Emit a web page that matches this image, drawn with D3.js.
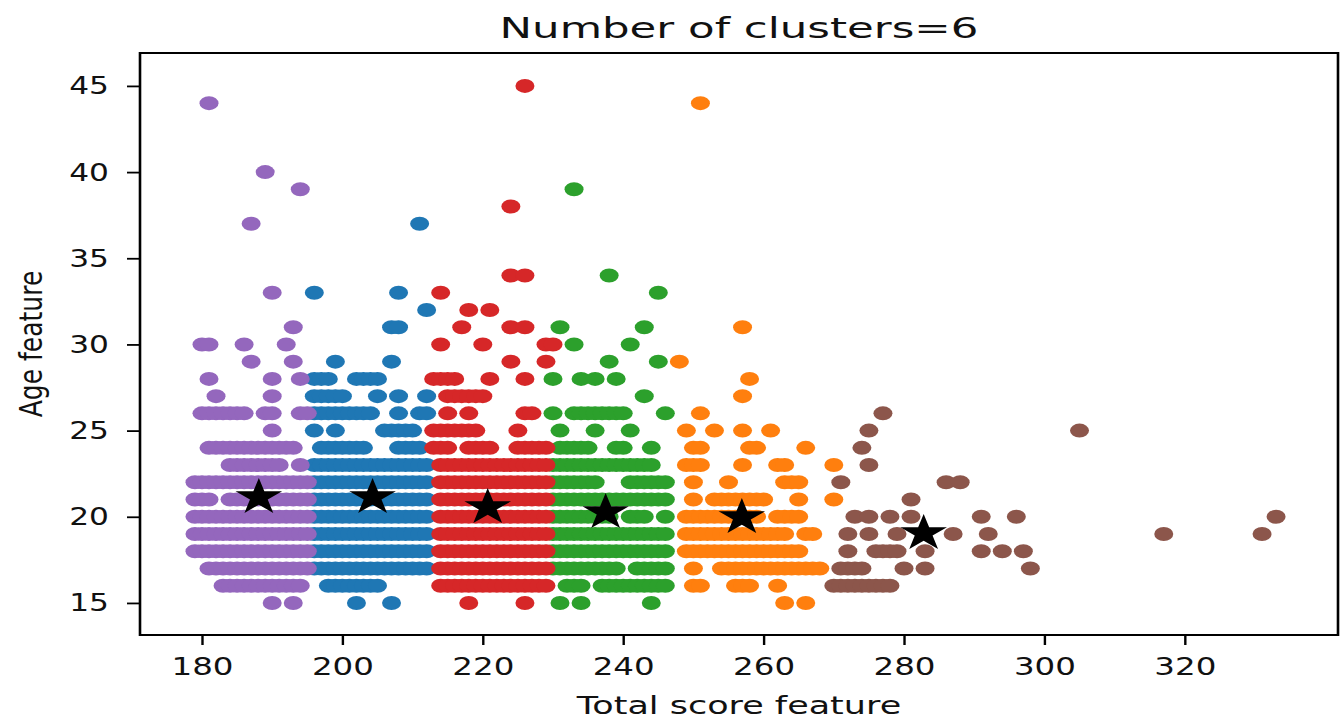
<!DOCTYPE html>
<html>
<head>
<meta charset="utf-8">
<script src="https://cdn.jsdelivr.net/npm/d3@7"></script>
<style>
  body { margin: 0; background: #fff; }
  svg { display: block; }
  text { font-family: "DejaVu Sans", sans-serif; fill: #111; }
</style>
</head>
<body>
<svg id="chart"></svg>
<script>
// points per cluster, one entry per age row: [age, "total scores"]
// "a-b" means every score from a to b is present in that row
var blueRows = [
  [37, "211"], [33, "196 208"], [32, "212"], [31, "207 208"], [29, "199 207"],
  [28, "196-198 202-205"], [27, "196-200 205 208 212"], [26, "196-204 208 211 212"],
  [25, "196 199 206-210"], [24, "197-203 208-211"], [23, "196-212"], [22, "196-212"],
  [21, "196-212"], [20, "196-212"], [19, "196-212"], [18, "196-212"], [17, "196-212"],
  [16, "198-205"], [15, "202 207"]
];
var orangeRows = [
  [44, "251"], [31, "257"], [29, "248"], [28, "258"], [27, "257"], [26, "251"],
  [25, "249 253 257 261"], [24, "250 251 258 259 266"], [23, "249-251 257 262 263 270"],
  [22, "250 255 263-265"], [21, "250 253-260 265 270"], [20, "249-259 262-265"],
  [19, "249-263 266 267"], [18, "249-265"], [17, "250 254-268"],
  [16, "250 251 256-258 262"], [15, "263 266"]
];
var greenRows = [
  [39, "233"], [34, "238"], [33, "245"], [31, "231 243"], [30, "233 241"], [29, "238 245"],
  [28, "230 234 236 239"], [27, "243"], [26, "230 233-240 246"], [25, "231 236 241"],
  [24, "231-235 239 240 244"], [23, "230-244"], [22, "230-236 241-246"], [21, "230-246"],
  [20, "230-238 241-243 246"], [19, "230-246"], [18, "230-246"], [17, "230-239 242-246"],
  [16, "232-234 237-246"], [15, "231 234 244"]
];
var redRows = [
  [45, "226"], [38, "224"], [34, "224 226"], [33, "214"], [32, "218 221"], [31, "217 224 226"],
  [30, "214 220 229 230"], [29, "224 229"], [28, "213-216 221 226"], [27, "215-220"],
  [26, "215 218 226 227"], [25, "213-219 225"], [24, "213-215 218-221 225-229"],
  [23, "214-229"], [22, "214-229"], [21, "214-229"], [20, "214-229"], [19, "214-229"],
  [18, "214-229"], [17, "214-229"], [16, "214-229"], [15, "218 226"]
];
var purpleRows = [
  [44, "181"], [40, "189"], [39, "194"], [37, "187"], [33, "190"], [31, "193"],
  [30, "180 181 186 192"], [29, "187 193"], [28, "181 190 194"], [27, "182 190"],
  [26, "180-186 189 190 194 195"], [25, "190"], [24, "181-193"], [23, "184-191 194"],
  [22, "179-195"], [21, "179-181 184-195"], [20, "179-195"], [19, "179-195"],
  [18, "179-195"], [17, "181-195"], [16, "183-194"], [15, "190 193"]
];
var brownRows = [
  [26, "277"], [25, "275 305"], [24, "274"], [23, "275"], [22, "271 286 288"], [21, "281"],
  [20, "273 275 278 281 291 296 333"], [19, "272 275 279 287 292 317 331"],
  [18, "272 276-279 283 291 294 297"], [17, "271-274 280 283 298"], [16, "270-278"]
];

// cluster centres (black stars)
var centroidX = [188.1, 204.3, 220.7, 237.5, 256.9, 282.8];
var centroidY = [21.13, 21.13, 20.55, 20.26, 19.97, 19.04];

// draw order = cluster label order, so later clusters sit on top
var clusterRows = [blueRows, orangeRows, greenRows, redRows, purpleRows, brownRows];
var clusterColors = ["#1f77b4", "#ff7f0e", "#2ca02c", "#d62728", "#9467bd", "#8c564b"];

var xTicks = [180, 200, 220, 240, 260, 280, 300, 320];
var yTicks = [15, 20, 25, 30, 35, 40, 45];

var titleText = "Number of clusters=6";
var xLabel = "Total score feature";
var yLabel = "Age feature";

// picture is stretched sideways, so text is too
var tickStretch = 1.3;

var width = 1344, height = 720;
var frame = {left: 140, right: 1338, top: 53, bottom: 635};

var x = d3.scaleLinear().domain([171.17, 341.82]).range([frame.left, frame.right]);
var y = d3.scaleLinear().domain([13.14, 46.91]).range([frame.bottom, frame.top]);

var svg = d3.select("#chart")
  .attr("width", width)
  .attr("height", height);

// turn the rows into points
function expand(rows) {
  var pts = [];
  rows.forEach(function(r) {
    r[1].split(" ").forEach(function(tok) {
      var p = tok.split("-").map(Number);
      var end = p.length > 1 ? p[1] : p[0];
      for (var v = p[0]; v <= end; v++) pts.push({x: v, y: r[0]});
    });
  });
  return pts;
}

// scatter points
var plot = svg.append("g").attr("class", "points");
clusterRows.forEach(function(rows, i) {
  plot.append("g")
    .selectAll("ellipse")
    .data(expand(rows))
    .enter().append("ellipse")
    .attr("cx", function(d) { return x(d.x); })
    .attr("cy", function(d) { return y(d.y); })
    .attr("rx", 9.5)
    .attr("ry", 7)
    .attr("fill", clusterColors[i]);
});

// centroids
var starPath = d3.symbol().type(d3.symbolStar).size(1 / 0.8908130915292852)();
svg.append("g")
  .selectAll("path")
  .data(centroidX.map(function(cx, i) { return {x: cx, y: centroidY[i]}; }))
  .enter().append("path")
  .attr("d", starPath)
  .attr("transform", function(d) {
    return "translate(" + x(d.x) + "," + y(d.y) + ") scale(24.5,19.3)";
  })
  .attr("fill", "#000");

// x axis
var xAxis = svg.append("g")
  .attr("transform", "translate(0," + frame.bottom + ")")
  .call(d3.axisBottom(x).tickValues(xTicks).tickSize(10).tickPadding(12));
xAxis.select(".domain").remove();
xAxis.selectAll(".tick line").attr("stroke", "#000").attr("stroke-width", 2.4);
xAxis.selectAll(".tick text")
  .attr("fill", "#111")
  .style("font-size", "25px")
  .attr("font-family", null)
  .attr("transform", "scale(" + tickStretch + ",1)");

// y axis
var yAxis = svg.append("g")
  .attr("transform", "translate(" + frame.left + ",0)")
  .call(d3.axisLeft(y).tickValues(yTicks).tickSize(13));
yAxis.select(".domain").remove();
yAxis.selectAll(".tick line").attr("stroke", "#000").attr("stroke-width", 1.8);
yAxis.selectAll(".tick text")
  .attr("fill", "#111")
  .style("font-size", "25px")
  .attr("font-family", null)
  .attr("x", 0)
  .attr("transform", "translate(-31,0) scale(1.25,1)");

// frame
var spines = svg.append("g").attr("stroke", "#000");
spines.append("line").attr("x1", frame.left).attr("x2", frame.right)
  .attr("y1", frame.top).attr("y2", frame.top).attr("stroke-width", 2);
spines.append("line").attr("x1", frame.left).attr("x2", frame.right)
  .attr("y1", frame.bottom).attr("y2", frame.bottom).attr("stroke-width", 2);
spines.append("line").attr("x1", frame.left).attr("x2", frame.left)
  .attr("y1", frame.top - 1).attr("y2", frame.bottom + 1).attr("stroke-width", 2.6);
spines.append("line").attr("x1", frame.right).attr("x2", frame.right)
  .attr("y1", frame.top - 1).attr("y2", frame.bottom + 1).attr("stroke-width", 2.6);

// title and axis labels
var midX = (frame.left + frame.right) / 2;
svg.append("text")
  .attr("text-anchor", "middle")
  .attr("transform", "translate(" + midX + ",38) scale(1.5,1)")
  .style("font-size", "29px")
  .text(titleText);

svg.append("text")
  .attr("text-anchor", "middle")
  .attr("transform", "translate(" + midX + ",714) scale(1.4,1)")
  .style("font-size", "25px")
  .text(xLabel);

svg.append("text")
  .attr("text-anchor", "middle")
  .attr("transform", "translate(42," + ((frame.top + frame.bottom) / 2) + ") scale(1.3,1) rotate(-90)")
  .style("font-size", "25px")
  .text(yLabel);
</script>
</body>
</html>
